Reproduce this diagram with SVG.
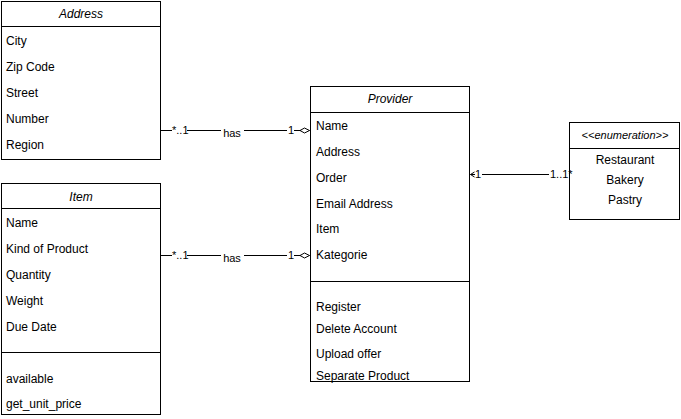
<svg xmlns="http://www.w3.org/2000/svg" width="681" height="419" viewBox="0 0 681 419">
<style>
.box{fill:#fff;stroke:#000;stroke-width:1}
.ln{stroke:#000;stroke-width:1;fill:none}
text{font-family:"Liberation Sans",Arial,sans-serif;font-size:12px;fill:#000}
.t{font-style:italic;text-anchor:middle}
.c{text-anchor:middle}
.lb{font-size:11px}
.bg{fill:#fff}
</style>
<defs>
<marker id="dia" markerWidth="12" markerHeight="8" refX="10" refY="4" orient="auto" markerUnits="userSpaceOnUse">
<path d="M0.5,4 L5,1.5 L10,4 L5,6.5 Z" fill="#fff" stroke="#000" stroke-width="1"/>
</marker>
<marker id="opn" markerWidth="8" markerHeight="8" refX="1" refY="4" orient="auto" markerUnits="userSpaceOnUse">
<path d="M5,1.5 L1,4 L5,6.5" fill="none" stroke="#000" stroke-width="1"/>
</marker>
</defs>

<g id="address">
<rect class="box" x="1.5" y="1.5" width="159" height="158"/>
<line class="ln" x1="1.5" y1="26.5" x2="160.5" y2="26.5"/>
<text class="t" x="81" y="18">Address</text>
<text x="6" y="45">City</text>
<text x="6" y="71">Zip Code</text>
<text x="6" y="97">Street</text>
<text x="6" y="123">Number</text>
<text x="6" y="149">Region</text>
</g>

<g id="item">
<rect class="box" x="1.5" y="183.5" width="159" height="231"/>
<line class="ln" x1="1.5" y1="208.5" x2="160.5" y2="208.5"/>
<line class="ln" x1="1.5" y1="352.5" x2="160.5" y2="352.5"/>
<text class="t" x="81" y="201">Item</text>
<text x="6" y="227">Name</text>
<text x="6" y="253">Kind of Product</text>
<text x="6" y="279">Quantity</text>
<text x="6" y="305">Weight</text>
<text x="6" y="331">Due Date</text>
<text x="6" y="383">available</text>
<text x="6" y="408">get_unit_price</text>
</g>

<g id="provider">
<rect class="box" x="310.5" y="86.5" width="159" height="295"/>
<line class="ln" x1="310.5" y1="112.5" x2="469.5" y2="112.5"/>
<line class="ln" x1="310.5" y1="281.5" x2="469.5" y2="281.5"/>
<text class="t" x="390" y="103">Provider</text>
<text x="316" y="130">Name</text>
<text x="316" y="156">Address</text>
<text x="316" y="182">Order</text>
<text x="316" y="208">Email Address</text>
<text x="316" y="233">Item</text>
<text x="316" y="259">Kategorie</text>
<text x="316" y="311">Register</text>
<text x="316" y="333">Delete Account</text>
<text x="316" y="358">Upload offer</text>
<text x="316" y="380">Separate Product</text>
</g>

<g id="enumeration">
<rect class="box" x="569.5" y="122.5" width="110" height="97"/>
<line class="ln" x1="569.5" y1="148.5" x2="679.5" y2="148.5"/>
<text class="t" x="625" y="139" style="font-size:11px">&lt;&lt;enumeration&gt;&gt;</text>
<text class="c" x="625" y="164">Restaurant</text>
<text class="c" x="625" y="184">Bakery</text>
<text class="c" x="625" y="204">Pastry</text>
</g>

<g id="connectors">
<line class="ln" x1="160.5" y1="130.5" x2="309.5" y2="130.5" marker-end="url(#dia)"/>
<rect class="bg" x="172" y="124" width="15" height="12"/>
<text class="lb" x="172" y="134">*..1</text>
<rect class="bg" x="221" y="124" width="23" height="12"/>
<text class="lb c" x="232" y="137">has</text>
<rect class="bg" x="287" y="124" width="7" height="12"/>
<text class="lb" x="288" y="134">1</text>

<line class="ln" x1="160.5" y1="255.5" x2="309.5" y2="255.5" marker-end="url(#dia)"/>
<rect class="bg" x="172" y="249" width="15" height="12"/>
<text class="lb" x="172" y="259">*..1</text>
<rect class="bg" x="221" y="249" width="23" height="12"/>
<text class="lb c" x="232" y="262">has</text>
<rect class="bg" x="287" y="249" width="7" height="12"/>
<text class="lb" x="288" y="259">1</text>

<line class="ln" x1="470.5" y1="174.5" x2="569.5" y2="174.5" marker-start="url(#opn)"/>
<rect class="bg" x="475" y="168" width="7" height="12"/>
<text class="lb" x="475" y="178">1</text>
<rect class="bg" x="549" y="168" width="20" height="12"/>
<text class="lb" x="550" y="178">1..1*</text>
</g>
</svg>
